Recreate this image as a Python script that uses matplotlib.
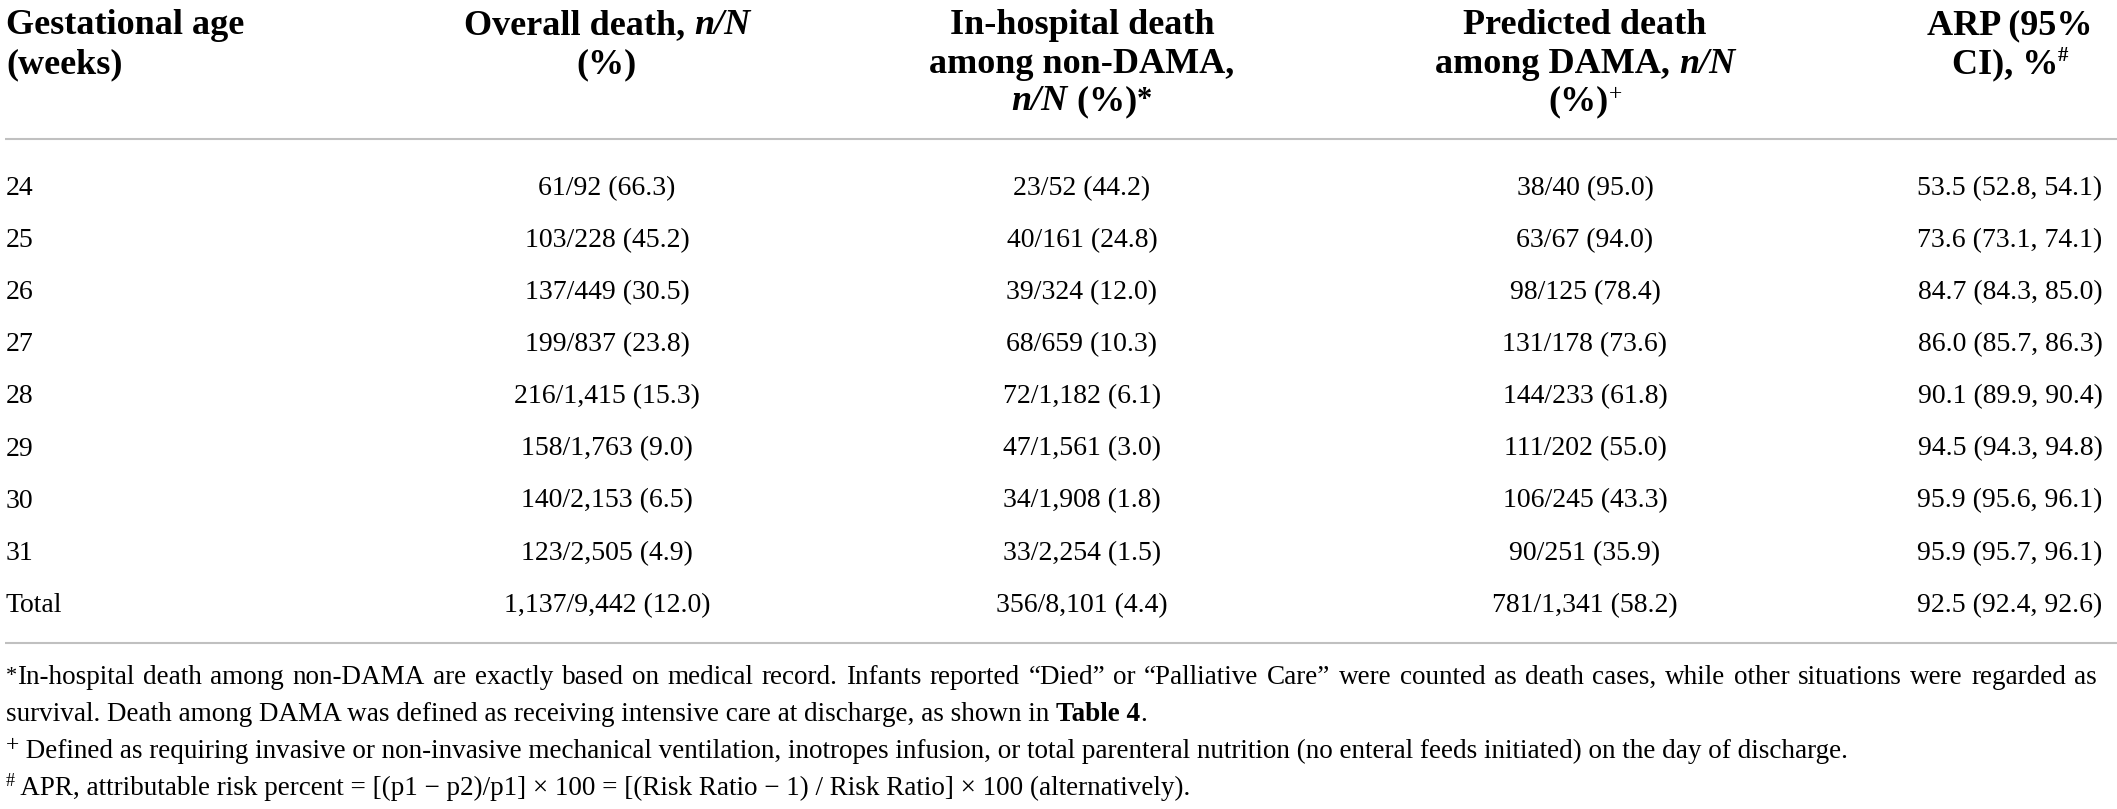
import matplotlib
matplotlib.use("Agg")
import matplotlib.pyplot as plt

# table values
ages = ["24", "25", "26", "27", "28", "29", "30", "31", "Total"]
overall_n = [61, 103, 137, 199, 216, 158, 140, 123, 1137]
overall_N = [92, 228, 449, 837, 1415, 1763, 2153, 2505, 9442]
overall_pct = [66.3, 45.2, 30.5, 23.8, 15.3, 9.0, 6.5, 4.9, 12.0]
nondama_n = [23, 40, 39, 68, 72, 47, 34, 33, 356]
nondama_N = [52, 161, 324, 659, 1182, 1561, 1908, 2254, 8101]
nondama_pct = [44.2, 24.8, 12.0, 10.3, 6.1, 3.0, 1.8, 1.5, 4.4]
dama_n = [38, 63, 98, 131, 144, 111, 106, 90, 781]
dama_N = [40, 67, 125, 178, 233, 202, 245, 251, 1341]
dama_pct = [95.0, 94.0, 78.4, 73.6, 61.8, 55.0, 43.3, 35.9, 58.2]
arp = [53.5, 73.6, 84.7, 86.0, 90.1, 94.5, 95.9, 95.9, 92.5]
arp_lo = [52.8, 73.1, 84.3, 85.7, 89.9, 94.3, 95.6, 95.7, 92.4]
arp_hi = [54.1, 74.1, 85.0, 86.3, 90.4, 94.8, 96.1, 96.1, 92.6]

FONT = "Liberation Serif"
W, H = 2117, 809
HEAD = dict(fontsize=26, fontweight="bold")
HEAD_I = dict(fontsize=26, fontweight="bold", fontstyle="italic")
HEAD_SUP = dict(fontsize=15, fontweight="bold", rise=12)
BODY = dict(fontsize=20)
NOTE = dict(fontsize=19.5)
NOTE_B = dict(fontsize=19.5, fontweight="bold")
NOTE_SUP = dict(fontsize=13, rise=9)

fig = plt.figure(figsize=(W / 100, H / 100), dpi=100)
ax = fig.add_axes([0, 0, 1, 1])
ax.set_xlim(0, W)
ax.set_ylim(H, 0)
ax.axis("off")
renderer = fig.canvas.get_renderer()


def text_width(s, props):
    # measure with sentinels so leading / trailing spaces count
    kw = {k: v for k, v in props.items() if k != "rise"}
    t1 = ax.text(0, 0, "|" + s + "|", fontfamily=FONT, **kw)
    t2 = ax.text(0, 0, "||", fontfamily=FONT, **kw)
    w = t1.get_window_extent(renderer).width - t2.get_window_extent(renderer).width
    t1.remove()
    t2.remove()
    return w


def draw_runs(x, y, runs, ha="center"):
    widths = [text_width(s, p) for s, p in runs]
    total = sum(widths)
    if ha == "center":
        x0 = x - total / 2
    elif ha == "right":
        x0 = x - total
    else:
        x0 = x
    for (s, p), w in zip(runs, widths):
        kw = {k: v for k, v in p.items() if k != "rise"}
        ax.text(x0, y - p.get("rise", 0), s, fontfamily=FONT, va="baseline",
                ha="left", **kw)
        x0 += w


def draw_justified(x0, x1, y, s, props):
    words = s.split(" ")
    widths = [text_width(wd, props) for wd in words]
    gap = (x1 - x0 - sum(widths)) / (len(words) - 1)
    gap = max(gap, text_width(" ", props) * 0.6)
    xx = x0
    for wd, w in zip(words, widths):
        ax.text(xx, y, wd, fontfamily=FONT, va="baseline", ha="left", **props)
        xx += w + gap


# header
col_x = [6, 607, 1082, 1585, 2010]
head_y = [34, 73, 110]
header = [
    [[("Gestational age", HEAD)], [("(weeks)", HEAD)]],
    [[("Overall death, ", HEAD), ("n/N", HEAD_I)], [("(%)", HEAD)]],
    [[("In-hospital death", HEAD)], [("among non-DAMA,", HEAD)],
     [("n/N", HEAD_I), (" (%)", HEAD), ("*", dict(fontsize=22, fontweight="bold", rise=2))]],
    [[("Predicted death", HEAD)], [("among DAMA, ", HEAD), ("n/N", HEAD_I)],
     [("(%)", HEAD), ("+", dict(fontsize=17, rise=10))]],
    [[("ARP (95%", HEAD)], [("CI), %", HEAD), ("#", HEAD_SUP)]],
]
for i, lines in enumerate(header):
    for j, runs in enumerate(lines):
        draw_runs(col_x[i], head_y[j], runs, ha="left" if i == 0 else "center")

ax.plot([5, W], [139, 139], color="#c0c0c0", lw=1.5, solid_capstyle="butt")

# body rows
row_y0, row_step = 195, 52.1
for r in range(len(ages)):
    y = row_y0 + r * row_step
    cells = [
        ages[r],
        f"{overall_n[r]:,}/{overall_N[r]:,} ({overall_pct[r]:.1f})",
        f"{nondama_n[r]:,}/{nondama_N[r]:,} ({nondama_pct[r]:.1f})",
        f"{dama_n[r]:,}/{dama_N[r]:,} ({dama_pct[r]:.1f})",
        f"{arp[r]:.1f} ({arp_lo[r]:.1f}, {arp_hi[r]:.1f})",
    ]
    for i, c in enumerate(cells):
        ax.text(col_x[i], y, c, fontfamily=FONT, va="baseline",
                ha="left" if i == 0 else "center", **BODY)

ax.plot([5, W], [643, 643], color="#c0c0c0", lw=1.5, solid_capstyle="butt")

# footnotes
note_y = [684, 721, 758, 795]
star = dict(fontsize=16, rise=3)
draw_runs(6, note_y[0], [("*", star)], ha="left")
star_w = text_width("*", star)
draw_justified(6 + star_w, 2097, note_y[0],
               "In-hospital death among non-DAMA are exactly based on medical record. "
               "Infants reported \u201cDied\u201d or \u201cPalliative Care\u201d were counted as "
               "death cases, while other situations were regarded as", NOTE)
draw_runs(6, note_y[1], [
    ("survival. Death among DAMA was defined as receiving intensive care at discharge, "
     "as shown in ", NOTE), ("Table 4", NOTE_B), (".", NOTE)], ha="left")
draw_runs(6, note_y[2], [
    ("+", dict(fontsize=17, rise=7)),
    (" Defined as requiring invasive or non-invasive mechanical ventilation, inotropes "
     "infusion, or total parenteral nutrition (no enteral feeds initiated) on the day "
     "of discharge.", NOTE)], ha="left")
draw_runs(6, note_y[3], [
    ("#", NOTE_SUP),
    (" APR, attributable risk percent = [(p1 \u2212 p2)/p1] \u00d7 100 = [(Risk Ratio "
     "\u2212 1) / Risk Ratio] \u00d7 100 (alternatively).", NOTE)], ha="left")

fig.savefig("out.png", dpi=100, facecolor="white")
